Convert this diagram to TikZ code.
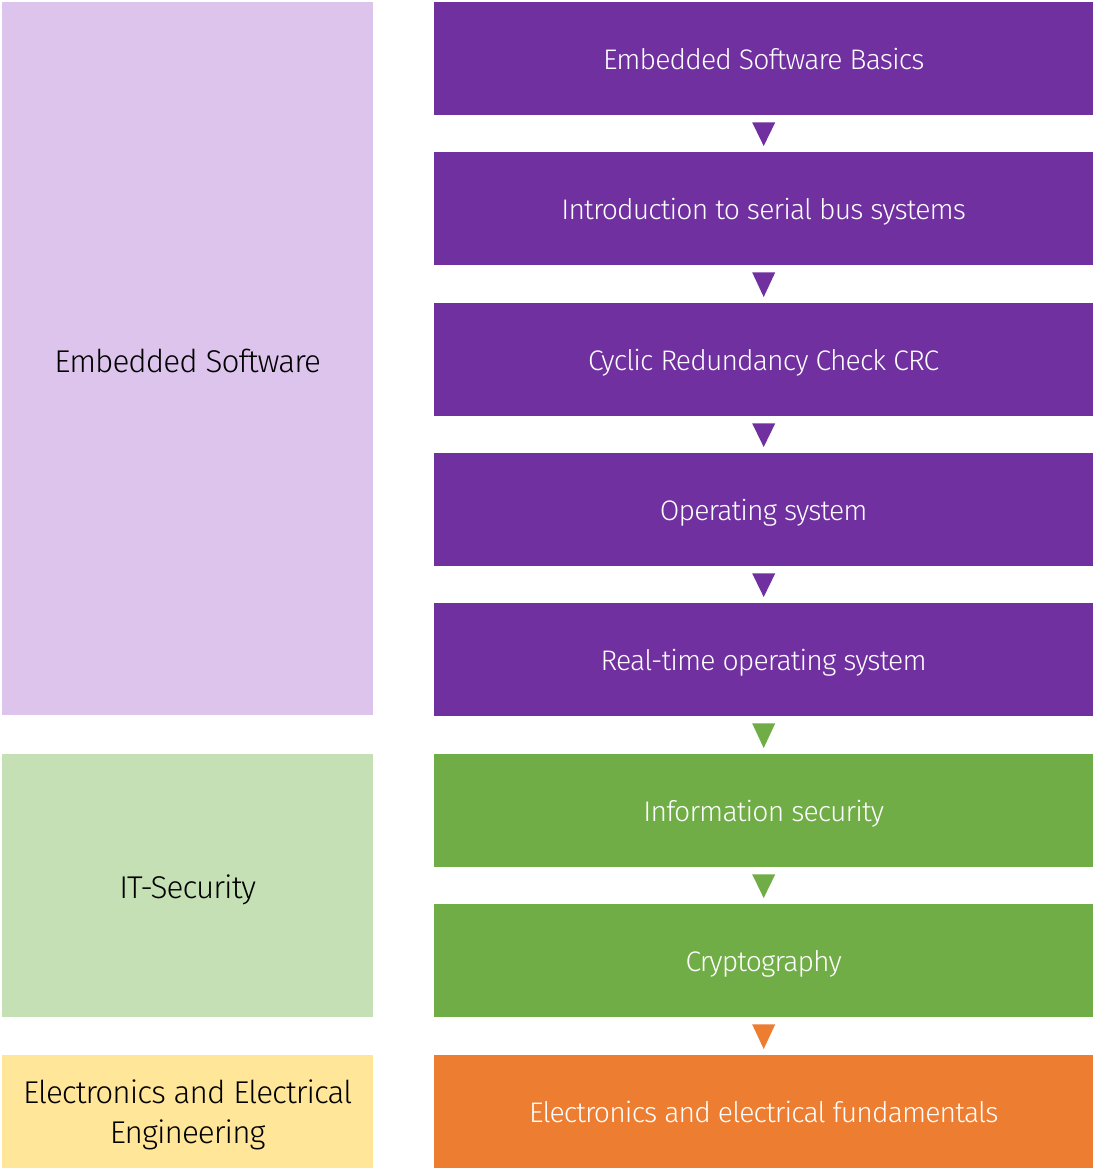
\documentclass[tikz,border=0pt]{standalone}
\usepackage{fontspec}
\setmainfont{Fira Sans}[UprightFont=* Light, LetterSpace=-3]
\usetikzlibrary{calc}
\definecolor{topicPurple}{HTML}{7030A0}
\definecolor{topicGreen}{HTML}{70AD47}
\definecolor{topicOrange}{HTML}{ED7D31}
\definecolor{areaPurple}{HTML}{DCC4EC}
\definecolor{areaGreen}{HTML}{C5E0B4}
\definecolor{areaYellow}{HTML}{FFE699}
% pad a label's height so that it sits #1/2 lower in its box
\newcommand\dropby[2]{\raisebox{0pt}[\dimexpr\height+#1\relax][\depth]{#2}}
\begin{document}
\begin{tikzpicture}[x=1pt,y=-1pt,
  topic/.style={anchor=north west, inner sep=0pt, minimum width=659pt,
    minimum height=113pt, text height=22pt, text depth=0pt,
    text=white, font=\fontsize{28.3}{34}\selectfont},
  area/.style={anchor=north west, inner sep=0pt, minimum width=371pt,
    text=black, font=\fontsize{31.5}{40}\selectfont},
  link/.style={fill=#1}]
\useasboundingbox (0,0) rectangle (1093,1168);

% subject areas
\node[area, fill=areaPurple, minimum height=713pt] (es) at (2,2)
  {\dropby{4pt}{Embedded Software}};
\node[area, fill=areaGreen, minimum height=263pt] (it) at (2,754)
  {\dropby{8pt}{IT-Security}};
\node[area, fill=areaYellow, minimum height=113pt] (ee) at (2,1055)
  {\dropby{7pt}{\begin{tabular}{@{}c@{}}Electronics and Electrical\\Engineering\end{tabular}}};

% course sequence
\node[topic, fill=topicPurple] (t1) at (434,2) {Embedded Software Basics};
\node[topic, fill=topicPurple] (t2) at (434,152) {Introduction to serial bus systems};
\node[topic, fill=topicPurple] (t3) at (434,303) {Cyclic Redundancy Check CRC};
\node[topic, fill=topicPurple] (t4) at (434,453) {Operating system};
\node[topic, fill=topicPurple] (t5) at (434,603) {Real-time operating system};
\node[topic, fill=topicGreen] (t6) at (434,754) {Information security};
\node[topic, fill=topicGreen] (t7) at (434,904) {Cryptography};
\node[topic, fill=topicOrange] (t8) at (434,1055) {Electronics and electrical fundamentals};

% downward triangles between consecutive courses
\foreach \a/\b/\c in {t1/t2/topicPurple, t2/t3/topicPurple, t3/t4/topicPurple,
    t4/t5/topicPurple, t5/t6/topicGreen, t6/t7/topicGreen, t7/t8/topicOrange}{
  \fill[link=\c] ([xshift=-11.5pt,yshift=-7pt]\a.south)
    -- ([xshift=11.5pt,yshift=-7pt]\a.south)
    -- ([yshift=6pt]\b.north) -- cycle;
}
\end{tikzpicture}
\end{document}
